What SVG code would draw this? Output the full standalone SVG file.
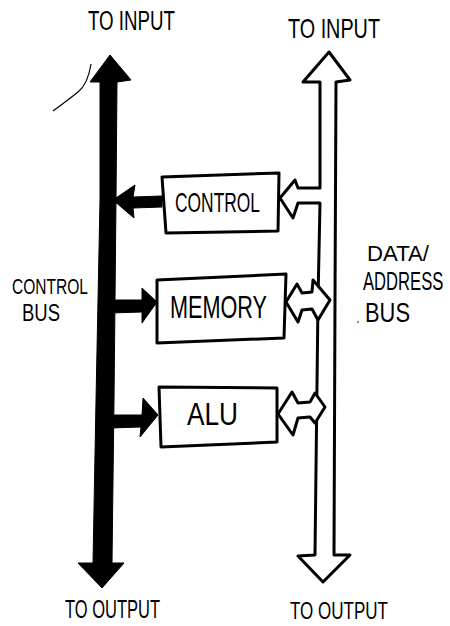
<svg xmlns="http://www.w3.org/2000/svg" width="450" height="626" viewBox="0 0 450 626">
<style>
.box{fill:#fff;stroke:#000;stroke-width:3;stroke-linejoin:round}
.hollow{fill:#fff;stroke:#000;stroke-width:3;stroke-linejoin:round}
.solid{fill:#000;stroke:#000;stroke-width:1;stroke-linejoin:round}
.t{font-family:"Liberation Sans",Arial,sans-serif;fill:#000}
</style>
<rect width="450" height="626" fill="#fff"/>
<g id="connectors">
<path id="control-bus" class="solid" d="M110,55 L131,80 L117,82 L116,200 L114,400 L112,563 L124,563 L102,588 L78,563 L93,563 L96,400 L100,200 L100,82 L90,82 Z"/>
<path id="ctl-to-bus" class="solid" d="M113,200 L135,185 L133,197 L162,196 L162,207 L133,208 L134,218 Z"/>
<path id="bus-to-mem" class="solid" d="M110,300 L142,300 L142,288 L157,302 L142,323 L142,312 L110,313 Z"/>
<path id="bus-to-alu" class="solid" d="M110,415 L142,415 L143,398 L158,415 L140,437 L141,427 L110,428 Z"/>
<path id="data-bus" class="hollow" d="M329,52 L350,80 L336,82 L335,300 L334,555 L350,555 L323,582 L298,556 L315,555 L318,300 L320,203 L298,203 L293,218 L280,198 L295,180 L298,188 L320,188 L320,82 L303,82 Z"/>
<path id="mem-data" class="hollow" d="M286,302 L297,284 L302,293 L312,292 L313,280 L330,300 L318,320 L312,309 L302,310 L298,322 Z"/>
<path id="alu-data" class="hollow" d="M278,414 L292,392 L298,403 L310,402 L315,393 L325,407 L315,423 L310,417 L298,418 L293,435 Z"/>
<path d="M91,64 Q88,84 78,92 T53,111" fill="none" stroke="#000" stroke-width="1.2"/>
<circle cx="358" cy="322" r="0.8" fill="#000"/>
</g>
<g id="control">
<polygon class="box" points="162,177 279,173 278,231 166,233"/>
<text class="t" x="175" y="212" font-size="28" textLength="85" lengthAdjust="spacingAndGlyphs">CONTROL</text>
</g>
<g id="memory">
<polygon class="box" points="157,280 286,274 284,338 157,343"/>
<text class="t" x="170" y="318" font-size="32" textLength="97" lengthAdjust="spacingAndGlyphs">MEMORY</text>
</g>
<g id="alu">
<polygon class="box" points="159,387 277,388 277,442 161,447"/>
<text class="t" x="187" y="425" font-size="31" textLength="51" lengthAdjust="spacingAndGlyphs">ALU</text>
</g>
<g id="labels">
<text class="t" x="88" y="30" font-size="27" textLength="87" lengthAdjust="spacingAndGlyphs">TO INPUT</text>
<text class="t" x="288" y="38" font-size="28" textLength="92" lengthAdjust="spacingAndGlyphs">TO INPUT</text>
<text class="t" x="65" y="618" font-size="25" textLength="95" lengthAdjust="spacingAndGlyphs">TO OUTPUT</text>
<text class="t" x="290" y="619" font-size="24" textLength="98" lengthAdjust="spacingAndGlyphs">TO OUTPUT</text>
<text class="t" x="12" y="294" font-size="22" textLength="76" lengthAdjust="spacingAndGlyphs">CONTROL</text>
<text class="t" x="22" y="321" font-size="23" textLength="38" lengthAdjust="spacingAndGlyphs">BUS</text>
<text class="t" x="367" y="261" font-size="22" textLength="62" lengthAdjust="spacingAndGlyphs">DATA/</text>
<text class="t" transform="translate(363 290) scale(0.64 1)" font-size="26">ADDRESS</text>
<text class="t" x="365" y="322" font-size="28" textLength="45" lengthAdjust="spacingAndGlyphs">BUS</text>
</g>
</svg>
